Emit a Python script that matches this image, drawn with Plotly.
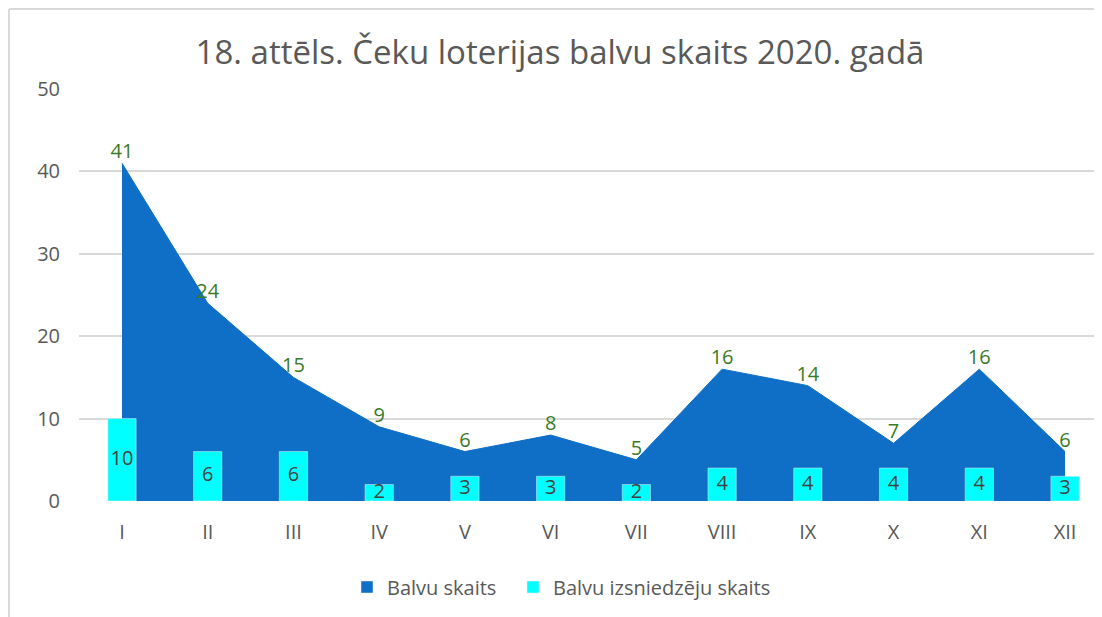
import plotly.graph_objects as go

months = ["I", "II", "III", "IV", "V", "VI", "VII", "VIII", "IX", "X", "XI", "XII"]
balvu_skaits = [41, 24, 15, 9, 6, 8, 5, 16, 14, 7, 16, 6]
izsniedzeju_skaits = [10, 6, 6, 2, 3, 3, 2, 4, 4, 4, 4, 3]
y_ticks = [0, 10, 20, 30, 40, 50]

AREA_C = "#0F6FC6"
BAR_C = "#00FFFF"
FONT = "Open Sans, sans-serif"

# figure placed in page with 8px body margin
W, H = 1094, 609
L, R, T, B = 71, 0, 81, 116
pw = W - L - R
ph = H - T - B

fig = go.Figure()

# Area (base axes -> behind the bars)
fig.add_trace(go.Scatter(
    x=list(range(len(months))), y=balvu_skaits, mode="lines+text",
    fill="tozeroy", fillcolor=AREA_C, line=dict(color=AREA_C, width=1),
    text=[str(v) for v in balvu_skaits], textposition="top center",
    textfont=dict(color="#3B7A26", size=20, family=FONT),
    showlegend=False, hoverinfo="skip", cliponaxis=False,
))

# Bars on overlaying axes -> in front
fig.add_trace(go.Bar(
    x=list(range(len(months))), y=izsniedzeju_skaits, marker_color=BAR_C,
    width=0.33, xaxis="x2", yaxis="y2", showlegend=False, hoverinfo="skip",
))
fig.add_trace(go.Scatter(
    x=list(range(len(months))), y=[v / 2 for v in izsniedzeju_skaits],
    mode="text", text=[str(v) for v in izsniedzeju_skaits],
    textposition="middle center",
    textfont=dict(color="#404040", size=20, family=FONT),
    xaxis="x2", yaxis="y2", showlegend=False, hoverinfo="skip", cliponaxis=False,
))

# Legend-only entries (each in its own legend for precise spacing)
fig.add_trace(go.Bar(x=[None], y=[None], name="Balvu skaits", marker_color=AREA_C,
                     xaxis="x2", yaxis="y2", legend="legend"))
fig.add_trace(go.Bar(x=[None], y=[None], name="Balvu izsniedzēju skaits",
                     marker_color=BAR_C, xaxis="x2", yaxis="y2", legend="legend2"))

xr = [-0.5016, -0.5016 + pw / 85.73]
xcommon = dict(range=xr, tickmode="array", tickvals=list(range(len(months))),
               ticktext=months, showgrid=False, zeroline=False, showline=False,
               ticks="outside", ticklen=13, tickcolor="rgba(0,0,0,0)",
               tickfont=dict(size=20, color="#595959", family=FONT))

leg_common = dict(orientation="h", xanchor="left", y=(T + ph - 579) / ph,
                  yanchor="middle", font=dict(size=20, color="#595959", family=FONT),
                  itemwidth=30, bgcolor="rgba(0,0,0,0)")

fig.update_layout(
    width=W, height=H,
    margin=dict(l=L, r=R, t=T, b=B),
    plot_bgcolor="white", paper_bgcolor="white",
    title=dict(text="18. attēls. Čeku loterijas balvu skaits 2020. gadā",
               x=(560 - 8 - L) / pw, xref="paper", xanchor="center",
               y=1 - 44 / H, yanchor="middle",
               font=dict(size=33, color="#595959", family=FONT)),
    xaxis=dict(**xcommon),
    yaxis=dict(range=[0, 50], tickmode="array", tickvals=y_ticks,
               showgrid=True, gridcolor="#D9D9D9", gridwidth=2, zeroline=False,
               showline=False, ticks="outside", ticklen=14, tickcolor="rgba(0,0,0,0)",
               tickfont=dict(size=20, color="#595959", family=FONT)),
    xaxis2=dict(**{**xcommon, "showticklabels": False}, overlaying="x"),
    yaxis2=dict(range=[0, 50], overlaying="y", showgrid=False, zeroline=False,
                showticklabels=False, showline=False),
    legend=dict(**leg_common, x=(347 - 8 - L) / pw),
    legend2=dict(**leg_common, x=(513 - 8 - L) / pw),
    bargap=0.67,
    shapes=[
        dict(type="line", xref="paper", yref="paper",
             x0=(1 - L) / pw, x1=1.0, y0=(T + ph - 1) / ph, y1=(T + ph - 1) / ph,
             line=dict(color="#D9D9D9", width=2)),
        dict(type="line", xref="paper", yref="paper",
             x0=(1 - L) / pw, x1=(1 - L) / pw, y0=(T + ph - 1) / ph, y1=(T + ph - H) / ph,
             line=dict(color="#D9D9D9", width=2)),
    ],
)

fig.write_html("out.html")
